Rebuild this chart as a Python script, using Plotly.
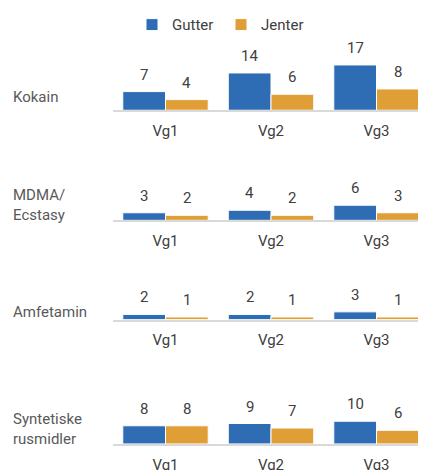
import plotly.graph_objects as go
from plotly.subplots import make_subplots

categories = ["Vg1", "Vg2", "Vg3"]
rows = ["Kokain", "MDMA/<br>Ecstasy", "Amfetamin", "Syntetiske<br>rusmidler"]
gutter = [[7, 14, 17], [3, 4, 6], [2, 2, 3], [8, 9, 10]]
jenter = [[4, 6, 8], [2, 2, 3], [1, 1, 1], [8, 7, 6]]

BLUE = "#2E6DB4"
ORANGE = "#E09F36"
FONT = "Roboto"
W, H = 426, 470
OFF = 8  # page body margin
baselines = [105.5 - OFF, 217 - OFF, 317.5 - OFF, 443.5 - OFF]
label_y = [92.5 - OFF, 201 - OFF, 309.5 - OFF, 428 - OFF]
px_per_unit = [2.7, 2.55, 2.6, 2.3]
dom_h = 60

fig = make_subplots(rows=4, cols=1)
annotations = []
for i in range(4):
    r = i + 1
    fig.add_trace(go.Bar(x=categories, y=gutter[i], name="Gutter", marker_color=BLUE,
                         marker_line=dict(color="white", width=1), showlegend=(i == 0),
                         legendgroup="g", hoverinfo="skip"), row=r, col=1)
    fig.add_trace(go.Bar(x=categories, y=jenter[i], name="Jenter", marker_color=ORANGE,
                         marker_line=dict(color="white", width=1), showlegend=(i == 0),
                         legendgroup="j", hoverinfo="skip"), row=r, col=1)
    b = baselines[i]
    y0 = 1 - b / H
    y1 = y0 + dom_h / H
    suffix = "" if i == 0 else str(r)
    fig.layout["yaxis" + suffix].update(domain=[y0, y1], range=[0, dom_h / px_per_unit[i]],
                                        visible=False, fixedrange=True)
    fig.layout["xaxis" + suffix].update(domain=[(112.75 - OFF) / W, (426 - OFF) / W],
                                        range=[-0.5, 2.469],
                                        showline=True, linecolor="#D9D9D9", linewidth=1.5,
                                        showgrid=False, zeroline=False, ticks="",
                                        ticklabelstandoff=6,
                                        tickfont=dict(family=FONT, size=15, color="#404040"))
    xref = "x" + suffix
    yref = "y" + suffix
    for c, cat in enumerate(categories):
        for val, sh in ((gutter[i][c], -21.25), (jenter[i][c], 21.25)):
            annotations.append(dict(x=cat, y=val, xref=xref, yref=yref, text=str(val),
                                    showarrow=False, xshift=sh, yanchor="bottom", yshift=6,
                                    font=dict(family=FONT, size=15, color="#404040")))
    annotations.append(dict(x=3 / W, y=1 - label_y[i] / H, xref="paper", yref="paper",
                            text=rows[i], showarrow=False, xanchor="left", yanchor="middle",
                            align="left",
                            font=dict(family=FONT, size=15, color="#595959")))

fig.update_layout(
    width=W, height=H,
    margin=dict(l=0, r=0, t=0, b=0),
    paper_bgcolor="white", plot_bgcolor="white",
    barmode="group", bargap=0.19, bargroupgap=0.0,
    annotations=annotations,
    legend=dict(orientation="h", x=(221 - OFF) / W, xanchor="center",
                y=1 - (19 - OFF) / H, yanchor="middle",
                itemwidth=30, entrywidth=44, entrywidthmode="pixels",
                font=dict(family=FONT, size=15, color="#404040"),
                bgcolor="rgba(0,0,0,0)"),
)
fig.write_html("out.html")
